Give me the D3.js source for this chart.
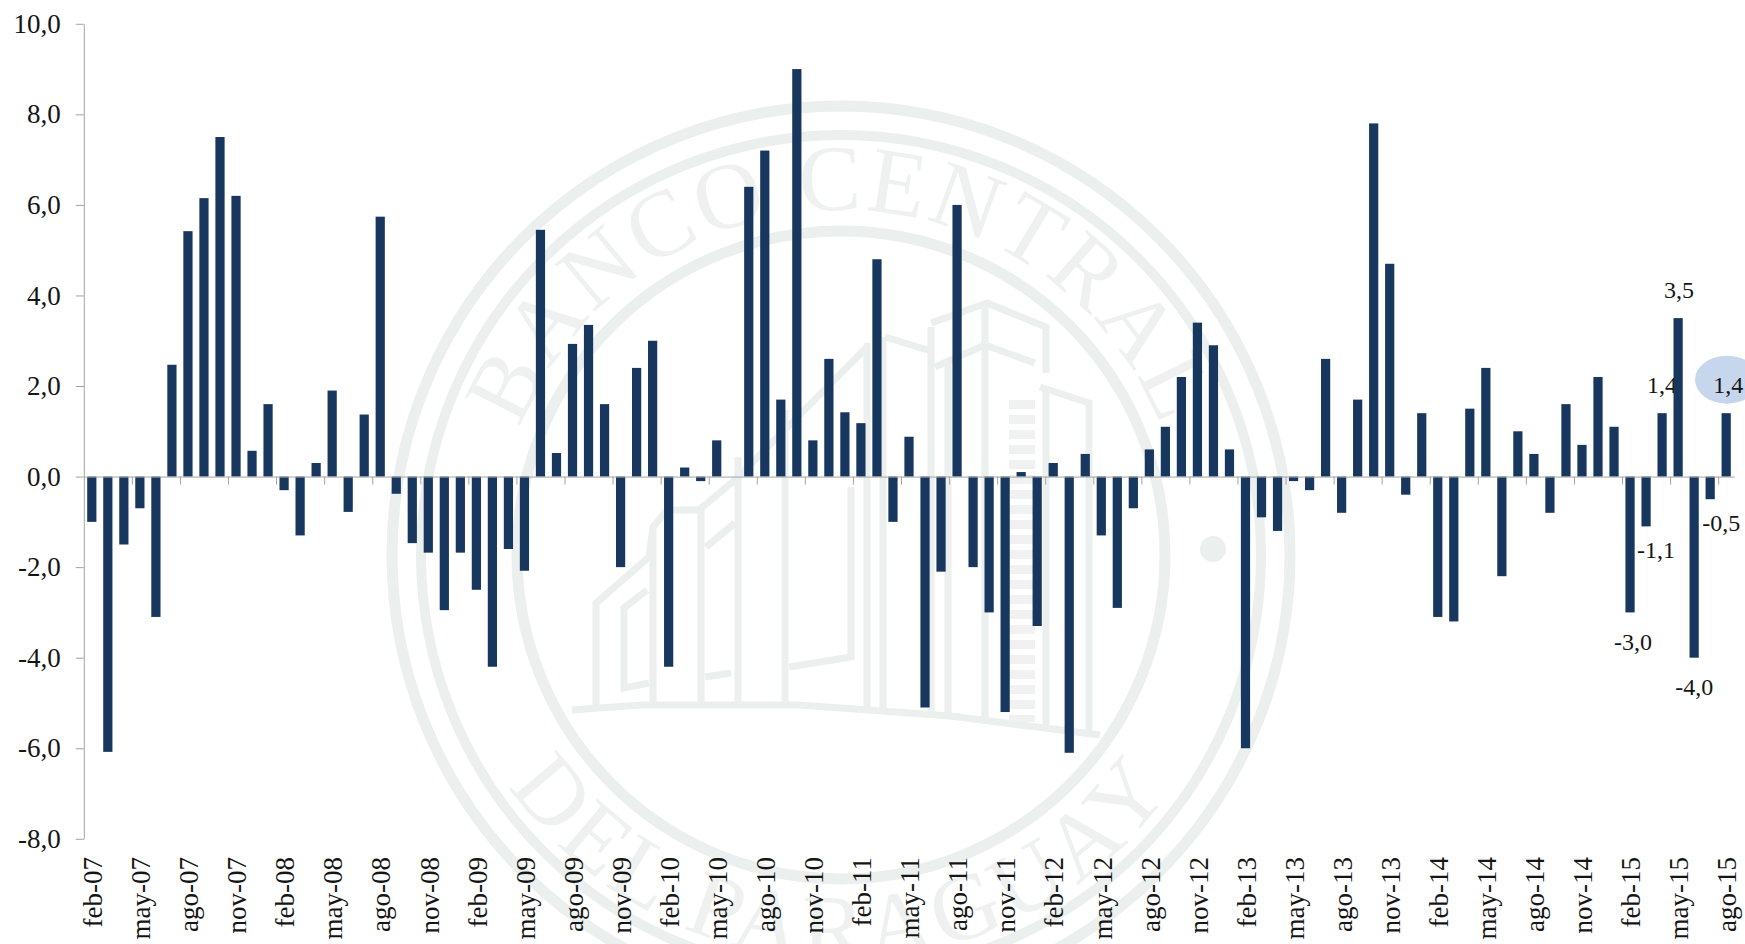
<!DOCTYPE html>
<html>
<head>
<meta charset="utf-8">
<script src="https://cdn.jsdelivr.net/npm/d3@7"></script>
<style>
  html, body { margin: 0; padding: 0; background: #fff; overflow: hidden; }
  text { font-family: "Liberation Serif", serif; fill: #151515; }
</style>
</head>
<body>
<div id="myVis"></div>
<script>
const months = [
  "feb-07","mar-07","abr-07","may-07","jun-07","jul-07","ago-07","sep-07","oct-07","nov-07","dic-07","ene-08",
  "feb-08","mar-08","abr-08","may-08","jun-08","jul-08","ago-08","sep-08","oct-08","nov-08","dic-08","ene-09",
  "feb-09","mar-09","abr-09","may-09","jun-09","jul-09","ago-09","sep-09","oct-09","nov-09","dic-09","ene-10",
  "feb-10","mar-10","abr-10","may-10","jun-10","jul-10","ago-10","sep-10","oct-10","nov-10","dic-10","ene-11",
  "feb-11","mar-11","abr-11","may-11","jun-11","jul-11","ago-11","sep-11","oct-11","nov-11","dic-11","ene-12",
  "feb-12","mar-12","abr-12","may-12","jun-12","jul-12","ago-12","sep-12","oct-12","nov-12","dic-12","ene-13",
  "feb-13","mar-13","abr-13","may-13","jun-13","jul-13","ago-13","sep-13","oct-13","nov-13","dic-13","ene-14",
  "feb-14","mar-14","abr-14","may-14","jun-14","jul-14","ago-14","sep-14","oct-14","nov-14","dic-14","ene-15",
  "feb-15","mar-15","abr-15","may-15","jun-15","jul-15","ago-15"
]

const values = [
  -1.0,-6.08,-1.5,-0.7,-3.1,2.47,5.42,6.15,7.5,6.2,0.57,1.6,
  -0.3,-1.3,0.3,1.9,-0.78,1.37,5.74,-0.38,-1.47,-1.68,-2.95,-1.68,
  -2.5,-4.2,-1.6,-2.08,5.45,0.52,2.93,3.35,1.6,-2.0,2.4,3.0,
  -4.2,0.2,-0.1,0.8,0,6.4,7.2,1.7,9.0,0.8,2.6,1.42,
  1.18,4.8,-1.0,0.88,-5.1,-2.1,6.0,-2.0,-3.0,-5.2,0.1,-3.3,
  0.3,-6.1,0.5,-1.3,-2.9,-0.7,0.6,1.1,2.2,3.4,2.9,0.6,
  -6.0,-0.9,-1.2,-0.1,-0.3,2.6,-0.8,1.7,7.8,4.7,-0.4,1.4,
  -3.1,-3.2,1.5,2.4,-2.2,1.0,0.5,-0.8,1.6,0.7,2.2,1.1,
  -3.0,-1.1,1.4,3.5,-4.0,-0.5,1.4
]

const yTicks = [-8, -6, -4, -2, 0, 2, 4, 6, 8, 10]

// the last months get a value label
const labeledMonths = ["feb-15","mar-15","abr-15","may-15","jun-15","jul-15","ago-15"]

const fmt = d => d.toFixed(1).replace(".", ",")

const svgWidth = 1745, svgHeight = 944
const plotLeft = 83.8, plotRight = 1734.2, plotTop = 23.8, plotBottom = 838.8

const svg = d3.select("#myVis")
  .append("svg")
    .attr("width", svgWidth)
    .attr("height", svgHeight)
    .style("display", "block")

const xScale = d3.scaleBand()
  .domain(months)
  .range([plotLeft, plotRight])
  .paddingInner(0.425)
  .paddingOuter(0.2125)

// same width, but in month boundaries: the ticks sit between the bars
const xEdges = d3.scaleLinear()
  .domain([0, months.length])
  .range([plotLeft, plotRight])

const yScale = d3.scaleLinear()
  .domain([-8, 10])
  .range([plotBottom, plotTop])

// ---- watermark seal behind the chart ----
const cx = 841, cy = 555, seal = "#ebefee"
const mark = svg.append("g").attr("fill", "none").attr("stroke", seal)

mark.append("circle").attr("cx", cx).attr("cy", cy).attr("r", 449).attr("stroke-width", 11)
mark.append("circle").attr("cx", cx).attr("cy", cy).attr("r", 420).attr("stroke-width", 10)
mark.append("circle").attr("cx", cx).attr("cy", cy).attr("r", 324).attr("stroke-width", 11)
mark.append("circle").attr("cx", 1213).attr("cy", 549).attr("r", 13).attr("fill", seal).attr("stroke", "none")

const defs = svg.append("defs")
defs.append("path").attr("id", "arcTop")
  .attr("d", `M ${cx - 345} ${cy} A 345 345 0 0 1 ${cx + 345} ${cy}`)
defs.append("path").attr("id", "arcBottom")
  .attr("d", `M ${cx - 405} ${cy} A 405 405 0 0 0 ${cx + 405} ${cy}`)

const sealText = (id, label, spacing) => svg.append("text")
    .style("fill", "#eef1f0")
    .style("font-size", "94px")
    .style("letter-spacing", spacing)
    .attr("text-anchor", "middle")
  .append("textPath")
    .attr("href", "#" + id)
    .attr("startOffset", "50%")
    .text(label)

sealText("arcTop", "BANCO CENTRAL", "3px")
sealText("arcBottom", "DEL PARAGUAY", "6px")

// building drawing
const buildings = [
  [[572,710],[640,705],[800,705],[950,716],[1100,735]],
  [[596,707],[596,603],[649,557],[653,527],[667,510],[699,510],[735,480],[867,347]],
  [[649,683],[624,688],[624,608],[647,590]],
  [[653,527],[653,703]], [[701,510],[701,703]],
  [[706,547],[735,523]], [[705,677],[731,673]],
  [[738,457],[738,703]], [[785,410],[785,703]],
  [[789,667],[851,657],[851,487]],
  [[867,343],[867,710]], [[883,337],[883,712]],
  [[885,337],[931,351]], [[931,327],[931,717]], [[948,360],[948,719]],
  [[931,323],[987,303],[1046,327],[1046,373]],
  [[935,367],[985,345],[1035,363]], [[985,307],[985,722]],
  [[1040,387],[1089,403],[1089,733]], [[1046,387],[1046,727]]
]
const line = d3.line()
mark.selectAll(".bld")
  .data(buildings)
  .enter()
  .append("path")
    .attr("class", "bld")
    .attr("d", d => line(d))
    .attr("stroke-width", 7)

mark.append("path")
  .attr("d", line([[1022,400],[1022,722]]))
  .attr("stroke", "#eff2f1")
  .attr("stroke-width", 26)
  .attr("stroke-dasharray", "9 6")

// ---- highlight behind the last label ----
svg.append("ellipse")
  .attr("cx", 1727)
  .attr("cy", yScale(2.14))
  .attr("rx", 32)
  .attr("ry", 24)
  .attr("fill", "#c6d6ec")

// ---- value labels, under the bars like in the original ----
const labelDx = [3, 10, 0, 1, 0, 11, 2]
const labelDy = [29, 23, -28.5, -28.5, 28.5, 23.5, -28.5]

svg.selectAll(".val")
  .data(labeledMonths)
  .enter()
  .append("text")
    .attr("class", "val")
    .attr("x", (d, i) => xScale(d) + xScale.bandwidth() / 2 + labelDx[i])
    .attr("y", (d, i) => yScale(values[months.indexOf(d)]) + labelDy[i])
    .attr("dy", ".35em")
    .attr("text-anchor", "middle")
    .style("font-size", "24px")
    .text(d => fmt(values[months.indexOf(d)]))

// ---- bars ----
svg.selectAll(".bar")
  .data(months)
  .enter()
  .append("rect")
    .attr("class", "bar")
    .attr("x", d => xScale(d))
    .attr("width", xScale.bandwidth())
    .attr("y", (d, i) => Math.min(yScale(values[i]), yScale(0)))
    .attr("height", (d, i) => Math.abs(yScale(values[i]) - yScale(0)))
    .attr("fill", "#17375e")

// ---- axes ----
const yAxis = svg.append("g")
  .attr("transform", "translate(" + plotLeft + ",0)")
  .call(d3.axisLeft(yScale).tickValues(yTicks).tickFormat(fmt).tickSize(8).tickSizeOuter(0).tickPadding(15))
yAxis.selectAll("text").style("font-size", "27px")

// zero line with a tick every three months
const zeroAxis = svg.append("g")
  .attr("transform", "translate(0," + yScale(0) + ")")
  .call(d3.axisBottom(xEdges)
    .tickValues(d3.range(3, months.length, 3))
    .tickFormat("")
    .tickSize(8)
    .tickSizeOuter(0))

svg.selectAll(".domain, .tick line").attr("stroke", "#a3a3a3")

const monthAxis = svg.append("g")
  .attr("transform", "translate(0,857)")
  .call(d3.axisBottom(xScale)
    .tickValues(months.filter((d, i) => i % 3 == 0))
    .tickSize(0))
monthAxis.select(".domain").remove()
monthAxis.selectAll("text")
  .attr("x", 0)
  .attr("y", 0)
  .attr("dy", ".38em")
  .attr("text-anchor", "end")
  .attr("transform", "rotate(-90)")
  .style("font-size", "27px")
</script>
</body>
</html>
